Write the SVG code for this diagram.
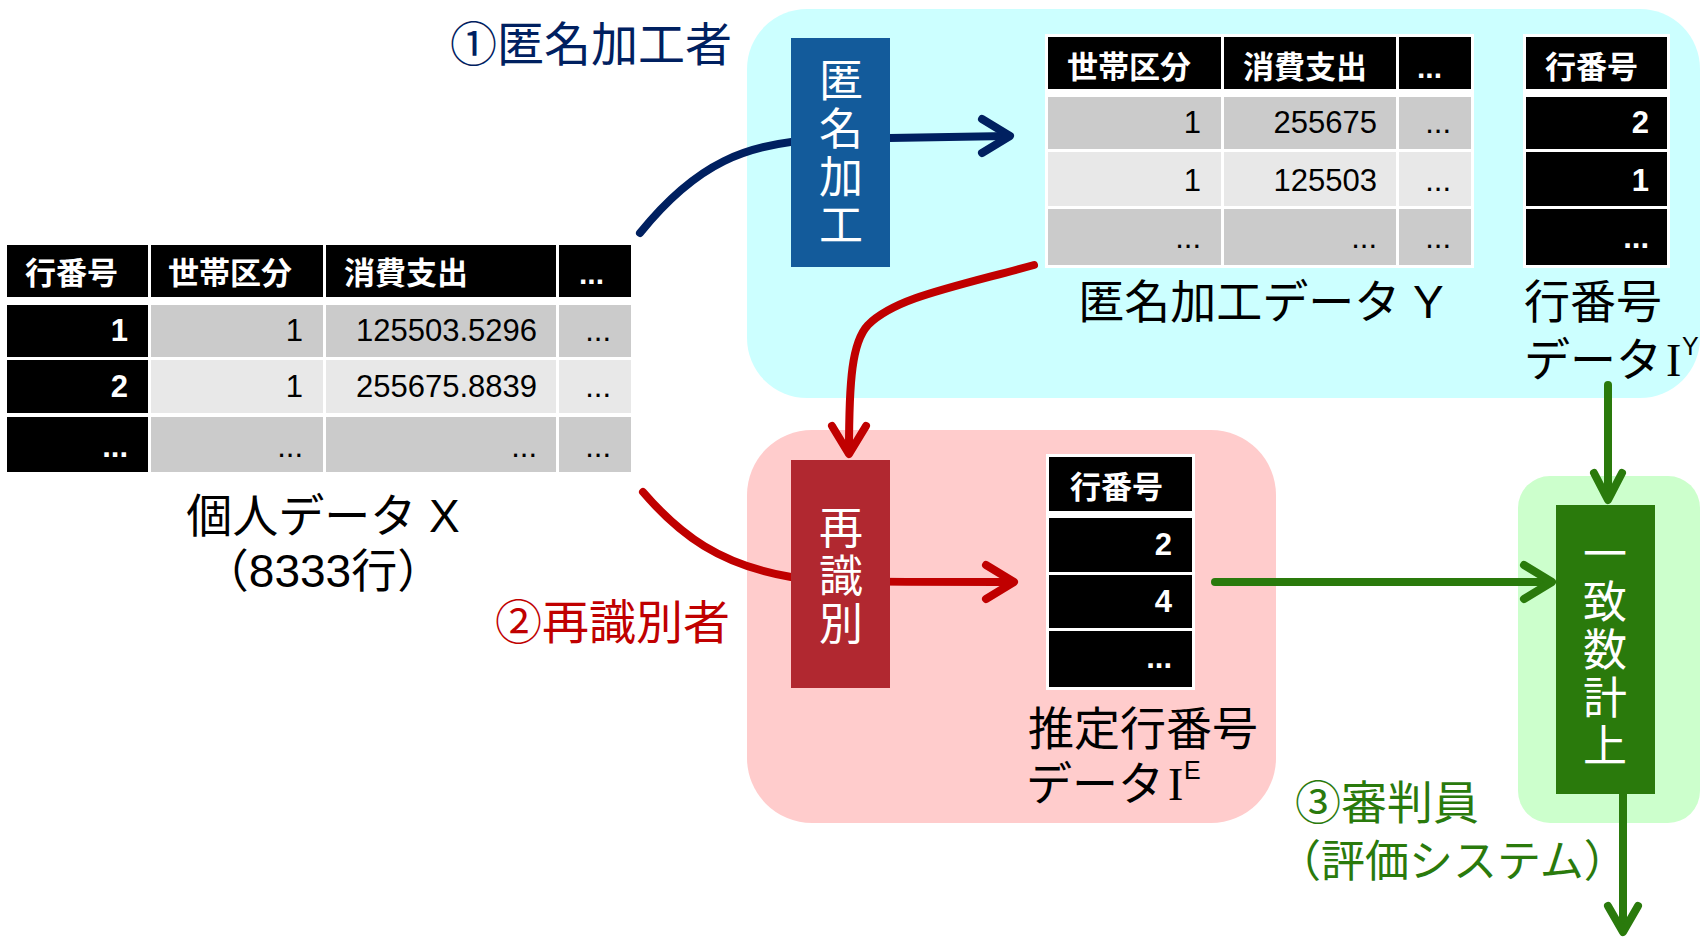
<svg xmlns="http://www.w3.org/2000/svg" width="1701" height="938" viewBox="0 0 1701 938">
<style>
.jp{font-family:"Liberation Sans","Noto Sans CJK JP",sans-serif}
.lbl{font-family:"Liberation Sans","Noto Sans CJK JP",sans-serif;font-size:46px;fill:#000}
.ser{font-family:"Liberation Serif","Noto Serif",serif}
.hd{font-family:"Noto Sans CJK JP","Noto Sans",sans-serif;font-size:31px;font-weight:bold;fill:#fff}
.hdd{font-family:"Liberation Sans",Arial,sans-serif;font-size:30px;font-weight:bold;fill:#fff}
.num{font-family:"Liberation Sans",Arial,sans-serif;font-size:31px;fill:#000;text-anchor:end}
.numw{font-family:"Liberation Sans",Arial,sans-serif;font-size:31px;font-weight:bold;fill:#fff;text-anchor:end}
.blk{fill:#000}
.g1{fill:#CBCBCB}
.g2{fill:#E8E8E8}
.vt{font-family:"Noto Sans CJK JP","Noto Sans",sans-serif;font-size:44px;fill:#fff;text-anchor:middle;writing-mode:vertical-rl;letter-spacing:4px}
.ln{fill:none;stroke-width:8;stroke-linecap:round;stroke-linejoin:round}
.navy{stroke:#002060}
.red{stroke:#C00000}
.grn{stroke:#2A7A0C}
</style>
<rect width="1701" height="938" fill="#fff"/>

<g id="regions">
<rect id="region-anon" x="747" y="9" width="953" height="389" rx="60" fill="#CCFFFF"/>
<rect id="region-reid" x="747" y="430" width="529" height="393" rx="65" fill="#FFCCCC"/>
<rect id="region-judge" x="1518" y="476" width="182" height="347" rx="32" fill="#CCFFCC"/>
</g>

<g id="connectors">
<path class="ln navy" d="M640,233 C695,165 745,141 830,139 L1008,136"/>
<path class="ln navy" d="M982,119 L1010,136 L982,153"/>
<path class="ln red" d="M1034,265 C950,288 895,298 868,325 C852,342 849,380 849,452"/>
<path class="ln red" d="M832,426 L849,454 L866,426"/>
<path class="ln red" d="M643,492 C680,535 720,565 791,577 C830,582 890,582 1012,582"/>
<path class="ln red" d="M986,565 L1014,582 L986,599"/>
<path class="ln grn" d="M1215,582 L1550,582"/>
<path class="ln grn" d="M1524,565 L1552,582 L1524,599"/>
<path class="ln grn" d="M1608,385 L1608,498"/>
<path class="ln grn" d="M1594,473 L1608,500 L1622,473"/>
<path class="ln grn" d="M1623,794 L1623,930"/>
<path class="ln grn" d="M1608,906 L1623,932 L1638,906"/>
</g>

<g id="table-x">
<rect class="blk" x="7" y="245" width="141" height="52"/>
<rect class="blk" x="151" y="245" width="172" height="52"/>
<rect class="blk" x="326" y="245" width="230" height="52"/>
<rect class="blk" x="559" y="245" width="72" height="52"/>
<rect class="blk" x="7" y="305" width="141" height="52"/>
<rect class="g1" x="151" y="305" width="172" height="52"/>
<rect class="g1" x="326" y="305" width="230" height="52"/>
<rect class="g1" x="559" y="305" width="72" height="52"/>
<rect class="blk" x="7" y="360" width="141" height="53"/>
<rect class="g2" x="151" y="360" width="172" height="53"/>
<rect class="g2" x="326" y="360" width="230" height="53"/>
<rect class="g2" x="559" y="360" width="72" height="53"/>
<rect class="blk" x="7" y="417" width="141" height="55"/>
<rect class="g1" x="151" y="417" width="172" height="55"/>
<rect class="g1" x="326" y="417" width="230" height="55"/>
<rect class="g1" x="559" y="417" width="72" height="55"/>
<text class="hd" x="25" y="284">行番号</text>
<text class="hd" x="168" y="284">世帯区分</text>
<text class="hd" x="344" y="284">消費支出</text>
<text class="hdd" x="579" y="284">...</text>
<text class="numw" x="128" y="341">1</text>
<text class="num" x="303" y="341">1</text>
<text class="num" x="537" y="341">125503.5296</text>
<text class="num" x="611" y="341">...</text>
<text class="numw" x="128" y="397">2</text>
<text class="num" x="303" y="397">1</text>
<text class="num" x="537" y="397">255675.8839</text>
<text class="num" x="611" y="397">...</text>
<text class="numw" x="128" y="457">...</text>
<text class="num" x="303" y="457">...</text>
<text class="num" x="537" y="457">...</text>
<text class="num" x="611" y="457">...</text>
<text class="lbl" x="323" y="532" text-anchor="middle">個人データ X</text>
<text class="lbl" x="323" y="587" text-anchor="middle">（8333行）</text>
</g>

<g id="box-anon">
<rect x="791" y="38" width="99" height="229" fill="#135B9B"/>
<text class="vt" x="841" y="154">匿名加工</text>
</g>

<g id="table-y">
<rect x="1045" y="34" width="429" height="234" fill="#fff"/>
<rect class="blk" x="1048" y="37" width="173" height="52"/>
<rect class="blk" x="1224" y="37" width="172" height="52"/>
<rect class="blk" x="1399" y="37" width="72" height="52"/>
<rect class="g1" x="1048" y="97" width="173" height="52"/>
<rect class="g1" x="1224" y="97" width="172" height="52"/>
<rect class="g1" x="1399" y="97" width="72" height="52"/>
<rect class="g2" x="1048" y="152" width="173" height="54"/>
<rect class="g2" x="1224" y="152" width="172" height="54"/>
<rect class="g2" x="1399" y="152" width="72" height="54"/>
<rect class="g1" x="1048" y="209" width="173" height="56"/>
<rect class="g1" x="1224" y="209" width="172" height="56"/>
<rect class="g1" x="1399" y="209" width="72" height="56"/>
<text class="hd" x="1067" y="78">世帯区分</text>
<text class="hd" x="1243" y="78">消費支出</text>
<text class="hdd" x="1417" y="78">...</text>
<text class="num" x="1201" y="133">1</text>
<text class="num" x="1377" y="133">255675</text>
<text class="num" x="1451" y="133">...</text>
<text class="num" x="1201" y="191">1</text>
<text class="num" x="1377" y="191">125503</text>
<text class="num" x="1451" y="191">...</text>
<text class="num" x="1201" y="248">...</text>
<text class="num" x="1377" y="248">...</text>
<text class="num" x="1451" y="248">...</text>
<text class="lbl" x="1261" y="318" text-anchor="middle">匿名加工データ Y</text>
</g>

<g id="table-iy">
<rect x="1523" y="34" width="147" height="234" fill="#fff"/>
<rect class="blk" x="1526" y="37" width="141" height="52"/>
<rect class="blk" x="1526" y="97" width="141" height="52"/>
<rect class="blk" x="1526" y="152" width="141" height="54"/>
<rect class="blk" x="1526" y="209" width="141" height="56"/>
<text class="hd" x="1545" y="78">行番号</text>
<text class="numw" x="1649" y="133">2</text>
<text class="numw" x="1649" y="191">1</text>
<text class="numw" x="1649" y="248">...</text>
<text class="lbl" x="1524" y="318">行番号</text>
<text class="lbl" x="1524" y="376">データ<tspan class="ser" x="1666">I</tspan><tspan font-size="25" x="1682" dy="-21">Y</tspan></text>
</g>

<g id="box-reid">
<rect x="791" y="460" width="99" height="228" fill="#B12830"/>
<text class="vt" x="841" y="577">再識別</text>
</g>

<g id="table-ie">
<rect x="1046" y="454" width="149" height="236" fill="#fff"/>
<rect class="blk" x="1049" y="457" width="143" height="54"/>
<rect class="blk" x="1049" y="518" width="143" height="54"/>
<rect class="blk" x="1049" y="575" width="143" height="53"/>
<rect class="blk" x="1049" y="631" width="143" height="56"/>
<text class="hd" x="1070" y="498">行番号</text>
<text class="numw" x="1172" y="555">2</text>
<text class="numw" x="1172" y="612">4</text>
<text class="numw" x="1172" y="668">...</text>
<text class="lbl" x="1028" y="745">推定行番号</text>
<text class="lbl" x="1026" y="800">データ<tspan class="ser" x="1168">I</tspan><tspan font-size="25" x="1184" dy="-21">E</tspan></text>
</g>

<g id="box-count">
<rect x="1556" y="505" width="99" height="289" fill="#2A7A0C"/>
<text class="vt" x="1605" y="651">一致数計上</text>
</g>

<g id="labels">
<text class="jp" x="450" y="61" font-size="47" fill="#002060">①匿名加工者</text>
<text class="jp" x="495" y="639" font-size="47" fill="#C00000">②再識別者</text>
<text class="jp" x="1295" y="819" font-size="46" fill="#2A7A0C">③審判員</text>
<text class="jp" x="1277" y="877" font-size="44" fill="#2A7A0C">（評価システム）</text>
</g>
</svg>
